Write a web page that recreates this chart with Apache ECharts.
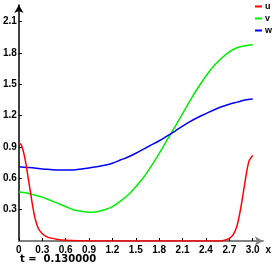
<!DOCTYPE html>
<html><head><meta charset="utf-8">
<script src="https://cdn.jsdelivr.net/npm/echarts@6/dist/echarts.min.js"></script>
<style>html,body{margin:0;padding:0;background:#fff}#c{width:274px;height:265px}</style>
</head><body><div id="c"></div>
<script>
var uX = [0,0.03,0.06,0.09,0.12,0.15,0.18,0.21,0.25,0.3,0.35,0.4,0.5,0.6,0.8,1.0,1.5,2.0,2.5,2.6,2.65,2.7,2.75,2.8,2.85,2.9,2.95,3.0];
var uY = [0.94,0.92,0.85,0.74,0.60,0.46,0.32,0.21,0.12,0.07,0.045,0.03,0.015,0.008,0.003,0,0,0,0,0.003,0.01,0.025,0.06,0.15,0.33,0.56,0.76,0.82];
var vwX = [0,0.1,0.2,0.3,0.4,0.5,0.6,0.7,0.8,0.9,1.0,1.1,1.2,1.3,1.4,1.5,1.6,1.7,1.8,1.9,2.0,2.1,2.2,2.3,2.4,2.5,2.6,2.7,2.8,2.9,3.0];
var vY = [0.47,0.46,0.44,0.42,0.39,0.36,0.33,0.30,0.285,0.275,0.28,0.30,0.33,0.38,0.44,0.52,0.61,0.72,0.84,0.965,1.09,1.22,1.35,1.47,1.58,1.675,1.75,1.81,1.85,1.87,1.88];
var wY = [0.71,0.705,0.70,0.69,0.685,0.68,0.68,0.68,0.69,0.70,0.71,0.725,0.745,0.775,0.805,0.84,0.88,0.92,0.96,1.005,1.05,1.10,1.145,1.185,1.22,1.255,1.285,1.31,1.33,1.35,1.36];
var seriesNames = ['u','v','w'];
var seriesColors = ['#ff0000','#00ee00','#0000ff'];
var timeLabel = 't =  0.130000';

function pairs(xs, ys){ return xs.map(function(x,i){ return [x, ys[i]]; }); }

var chart = echarts.init(document.getElementById('c'));
var lab = {color:'#000', fontSize:10, fontWeight:'bold', fontFamily:'Liberation Sans, Arial, sans-serif'};
chart.setOption({
  animation:false,
  grid:{left:17, right:10, top:5, bottom:24, containLabel:false},
  legend:{
    orient:'vertical', right:-3, top:-3, itemWidth:7, itemHeight:2, itemGap:3,
    icon:'rect',
    textStyle:{color:'#000', fontSize:9, fontWeight:'bold', fontFamily:'Liberation Sans, Arial, sans-serif', padding:[0,0,0,-2]},
    data:seriesNames
  },
  xAxis:{
    type:'value', min:0, max:3.13, interval:0.3,
    name:'x', nameLocation:'end', nameGap:1,
    nameTextStyle:{color:'#000', fontSize:10, fontWeight:'bold', verticalAlign:'top', padding:[4,0,0,0]},
    axisLine:{lineStyle:{color:'#808080', width:2}, symbol:['none','arrow'], symbolSize:[7,8]},
    axisTick:{inside:true, length:3, lineStyle:{color:'#000'}},
    axisLabel:Object.assign({margin:4, showMaxLabel:false, formatter:function(v){return v===0?'0':v.toFixed(1);}}, lab),
    splitLine:{show:false}
  },
  yAxis:{
    type:'value', min:0, max:2.26, interval:0.3,
    axisLine:{show:true, onZero:false, lineStyle:{color:'#000', width:1.5}, symbol:['none','arrow'], symbolSize:[7,8]},
    axisTick:{inside:true, length:3, lineStyle:{color:'#000'}},
    axisLabel:Object.assign({margin:2, showMinLabel:false, showMaxLabel:false, formatter:function(v){return v.toFixed(1);}}, lab),
    splitLine:{show:false}
  },
  graphic:[{type:'text', left:20, top:254, style:{text:timeLabel, fill:'#000', font:'bold 10px DejaVu Sans, sans-serif'}}],
  series:[
    {name:seriesNames[0], type:'line', smooth:0.3, showSymbol:false, data:pairs(uX,uY), color:seriesColors[0], lineStyle:{width:1.5}, z:4},
    {name:seriesNames[1], type:'line', smooth:0.3, showSymbol:false, data:pairs(vwX,vY), color:seriesColors[1], lineStyle:{width:1.5}, z:3},
    {name:seriesNames[2], type:'line', smooth:0.3, showSymbol:false, data:pairs(vwX,wY), color:seriesColors[2], lineStyle:{width:1.5}, z:3}
  ]
});
</script></body></html>
